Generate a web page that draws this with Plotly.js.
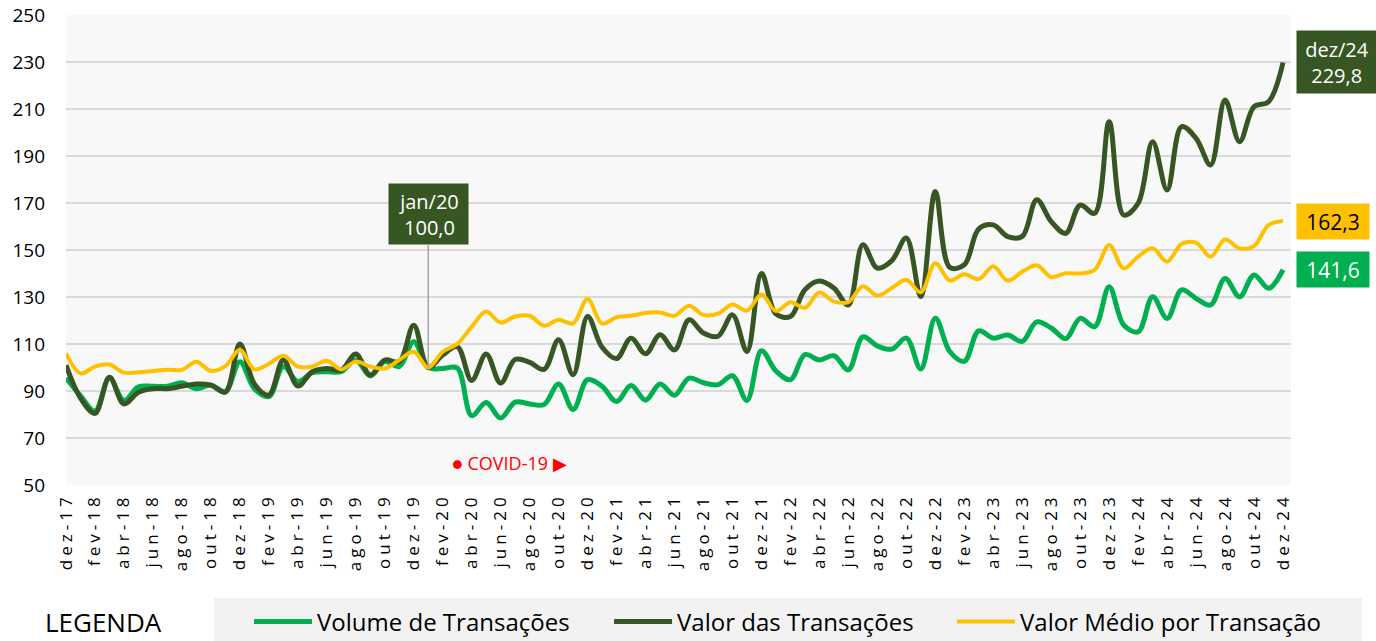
<!DOCTYPE html>
<html>
<head>
<meta charset="utf-8">
<script src="https://cdn.plot.ly/plotly-3.0.1.min.js"></script>
<style>
  html, body { margin: 0; padding: 0; background: #ffffff; }
  #chart { width: 1376px; height: 641px; }
  #chart .xaxislayer-above .xtick text { letter-spacing: 4px; }
</style>
</head>
<body>
<div id="chart"></div>
<script>
const months = [
  "dez-17",
  "jan-18","fev-18","mar-18","abr-18","mai-18","jun-18","jul-18","ago-18","set-18","out-18","nov-18","dez-18",
  "jan-19","fev-19","mar-19","abr-19","mai-19","jun-19","jul-19","ago-19","set-19","out-19","nov-19","dez-19",
  "jan-20","fev-20","mar-20","abr-20","mai-20","jun-20","jul-20","ago-20","set-20","out-20","nov-20","dez-20",
  "jan-21","fev-21","mar-21","abr-21","mai-21","jun-21","jul-21","ago-21","set-21","out-21","nov-21","dez-21",
  "jan-22","fev-22","mar-22","abr-22","mai-22","jun-22","jul-22","ago-22","set-22","out-22","nov-22","dez-22",
  "jan-23","fev-23","mar-23","abr-23","mai-23","jun-23","jul-23","ago-23","set-23","out-23","nov-23","dez-23",
  "jan-24","fev-24","mar-24","abr-24","mai-24","jun-24","jul-24","ago-24","set-24","out-24","nov-24","dez-24"
];

const tickLabels = [
  "dez-17","fev-18","abr-18","jun-18","ago-18","out-18","dez-18","fev-19","abr-19","jun-19","ago-19","out-19","dez-19",
  "fev-20","abr-20","jun-20","ago-20","out-20","dez-20","fev-21","abr-21","jun-21","ago-21","out-21","dez-21",
  "fev-22","abr-22","jun-22","ago-22","out-22","dez-22","fev-23","abr-23","jun-23","ago-23","out-23","dez-23",
  "fev-24","abr-24","jun-24","ago-24","out-24","dez-24"
];

const volume = [
  95.5,
  88.0, 81.5, 95.5, 86.0, 91.8, 92.0, 92.0, 93.5, 91.0, 92.5, 89.7, 102.5,
  91.0, 87.6, 100.4, 94.0, 97.8, 98.2, 98.2, 103.2, 96.4, 102.5, 100.4, 111.0,
  100.0, 99.6, 99.8, 79.5, 85.1, 78.5, 85.3, 84.5, 84.3, 93.0, 82.1, 94.8,
  92.0, 85.5, 92.3, 86.1, 93.0, 88.2, 95.5, 93.5, 92.7, 96.5, 86.0, 107.1,
  98.5, 94.8, 105.5, 103.2, 105.0, 99.0, 113.0, 109.2, 107.8, 112.5, 99.4, 121.0,
  106.8, 102.6, 115.6, 112.5, 113.8, 111.1, 119.4, 116.8, 112.3, 120.9, 117.4, 134.4,
  118.1, 115.2, 130.1, 120.9, 133.0, 129.4, 126.6, 137.9, 130.1, 139.4, 133.7, 141.6
];

const valor = [
  101.0,
  87.0, 80.5, 95.8, 84.5, 89.5, 91.0, 91.0, 92.0, 93.0, 92.5, 89.5, 110.0,
  93.0, 88.3, 103.2, 92.1, 98.2, 99.6, 98.9, 105.7, 96.8, 103.2, 102.5, 118.0,
  100.0, 105.3, 108.9, 94.5, 105.7, 93.4, 103.4, 102.2, 99.2, 111.8, 96.9, 121.7,
  108.6, 103.8, 112.5, 105.8, 113.9, 107.5, 120.3, 114.7, 113.3, 122.4, 106.8, 140.0,
  122.8, 121.7, 133.1, 136.8, 133.8, 126.6, 152.2, 142.3, 145.5, 155.1, 130.2, 174.9,
  142.6, 143.7, 159.0, 160.7, 155.7, 155.8, 171.4, 162.1, 157.1, 169.1, 165.6, 204.6,
  164.9, 169.9, 196.1, 175.5, 202.5, 197.5, 186.2, 213.8, 196.1, 211.0, 213.1, 229.8
];

const medio = [
  106.0,
  97.5, 100.4, 101.3, 97.8, 98.0, 98.5, 99.0, 99.0, 102.5, 98.5, 100.6, 107.5,
  99.2, 101.5, 105.0, 100.4, 100.4, 102.9, 99.2, 102.5, 100.4, 99.6, 103.2, 106.7,
  100.0, 106.7, 110.0, 117.3, 123.8, 119.1, 121.7, 122.0, 117.8, 120.3, 118.7, 129.1,
  118.7, 121.4, 122.0, 123.2, 123.4, 122.0, 126.3, 122.4, 122.9, 126.8, 124.2, 131.1,
  124.0, 127.8, 125.4, 131.9, 128.1, 127.8, 134.6, 130.6, 133.8, 137.3, 132.0, 144.4,
  137.0, 139.7, 137.6, 143.1, 137.0, 140.8, 143.5, 138.5, 140.1, 140.0, 141.5, 152.1,
  142.2, 147.2, 150.7, 145.0, 152.6, 153.1, 147.2, 154.5, 150.7, 151.7, 160.6, 162.3
];

const seriesNames = ["Volume de Transações", "Valor das Transações", "Valor Médio por Transação"];
const yTicks = [50, 70, 90, 110, 130, 150, 170, 190, 210, 230, 250];

const C_GREEN = "#00B050";
const C_DARK = "#375623";
const C_YELLOW = "#FFC000";
const FONT = "Open Sans, Lato, sans-serif";

const lastIdx = months.length - 1;
function fmt(v) { return v.toFixed(1).replace(".", ","); }

const traces = [
  { x: months, y: volume, name: seriesNames[0], type: "scatter", mode: "lines", legend: "legend",
    line: { color: C_GREEN, width: 5, shape: "spline", smoothing: 1 } },
  { x: months, y: valor, name: seriesNames[1], type: "scatter", mode: "lines", legend: "legend2",
    line: { color: C_DARK, width: 5, shape: "spline", smoothing: 1 } },
  { x: months, y: medio, name: seriesNames[2], type: "scatter", mode: "lines", legend: "legend3",
    line: { color: C_YELLOW, width: 4, shape: "spline", smoothing: 1 } }
];

const annotations = [
  { x: months[25], y: valor[25], xref: "x", yref: "y",
    text: "jan/20<br>" + fmt(valor[25]),
    showarrow: true, arrowhead: 0, arrowwidth: 1.5, arrowcolor: "#A6A6A6",
    ax: 0, ay: -154, standoff: 0,
    bgcolor: C_DARK, borderpad: 4, width: 71, height: 52,
    font: { family: FONT, size: 20, color: "#ffffff" } },
  { x: months[lastIdx], y: valor[lastIdx], xref: "x", yref: "y",
    text: "dez/24<br>" + fmt(valor[lastIdx]),
    showarrow: false, xanchor: "left", yanchor: "middle", xshift: 13,
    bgcolor: C_DARK, borderpad: 4, width: 72, height: 54,
    font: { family: FONT, size: 20, color: "#ffffff" } },
  { x: months[lastIdx], y: medio[lastIdx], xref: "x", yref: "y",
    text: fmt(medio[lastIdx]),
    showarrow: false, xanchor: "left", yanchor: "middle", xshift: 13,
    bgcolor: C_YELLOW, borderpad: 4, width: 64, height: 27,
    font: { family: FONT, size: 21, color: "#000000" } },
  { x: months[lastIdx], y: volume[lastIdx], xref: "x", yref: "y",
    text: fmt(volume[lastIdx]),
    showarrow: false, xanchor: "left", yanchor: "middle", xshift: 13,
    bgcolor: C_GREEN, borderpad: 4, width: 64, height: 27,
    font: { family: FONT, size: 21, color: "#ffffff" } },
  { x: 26.5, y: 59.4, xref: "x", yref: "y",
    text: "● COVID-19 ▶", showarrow: false, xanchor: "left", yanchor: "middle",
    font: { family: FONT, size: 18, color: "#FF0000" } },
  { x: 0.031, y: -0.2915, xref: "paper", yref: "paper",
    text: "LEGENDA", showarrow: false, xanchor: "center", yanchor: "middle",
    font: { family: FONT, size: 26, color: "#000000" } }
];

function legendAt(xp) {
  return {
    orientation: "h", x: xp, y: -0.2915, xanchor: "left", yanchor: "middle",
    bgcolor: "rgba(0,0,0,0)", borderwidth: 0,
    font: { family: FONT, size: 24, color: "#000000" },
    itemwidth: 58
  };
}

const layout = {
  width: 1376, height: 641,
  margin: { l: 66, r: 85, t: 15, b: 156, autoexpand: false },
  paper_bgcolor: "#ffffff",
  plot_bgcolor: "#F8F8F8",
  font: { family: FONT, color: "#000000" },
  showlegend: true,
  legend: legendAt(0.1494),
  legend2: legendAt(0.4433),
  legend3: legendAt(0.7233),
  xaxis: {
    type: "category",
    range: [0, 84.55],
    tickmode: "array", tickvals: tickLabels, ticktext: tickLabels,
    tickangle: -90, ticks: "", ticklabelstandoff: 4,
    tickfont: { family: FONT, size: 17, color: "#000000" },
    showgrid: false, zeroline: false, showline: false,
    automargin: false
  },
  yaxis: {
    range: [50, 250],
    tickmode: "array", tickvals: yTicks,
    ticks: "", ticklabelstandoff: 20,
    tickfont: { family: FONT, size: 19, color: "#000000" },
    showgrid: true, gridcolor: "#D9D9D9", gridwidth: 1.5,
    zeroline: false, showline: false,
    automargin: false
  },
  shapes: [
    { type: "rect", xref: "paper", yref: "paper",
      x0: 0.1208, x1: 1.058, y0: -0.34, y1: -0.2404,
      fillcolor: "#F2F2F2", line: { width: 0 }, layer: "below" }
  ],
  annotations: annotations
};

Plotly.newPlot("chart", traces, layout, { displayModeBar: false, staticPlot: true });
</script>
</body>
</html>
